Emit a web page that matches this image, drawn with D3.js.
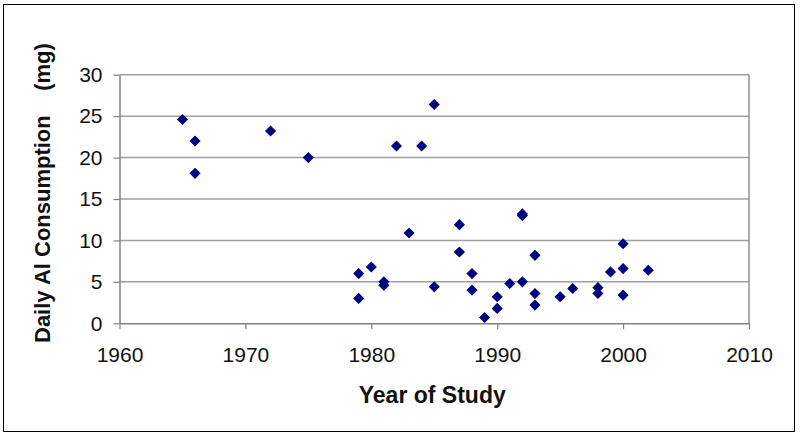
<!DOCTYPE html>
<html>
  <head>
    <meta charset="utf-8">
    <title>Daily Al Consumption by Year of Study</title>
    <style>
      body { margin: 0; background: white; }
      .tick-label {
        font-family: "Liberation Sans", Arial, sans-serif;
        font-size: 21px;
        fill: #111;
      }
      .axis-title {
        font-family: "Liberation Sans", Arial, sans-serif;
        font-size: 22px;
        font-weight: bold;
        fill: #111;
        white-space: pre;
      }
    </style>
  </head>
  <body>
    <script src="https://d3js.org/d3.v7.min.js"></script>
    <script>
      const width = 800;
      const height = 437;

      // study year and daily aluminium intake (mg)
      const years = [1965, 1966, 1966, 1972, 1975, 1979, 1979, 1980, 1981, 1981,
                     1982, 1983, 1984, 1985, 1985, 1987, 1987, 1988, 1988, 1989,
                     1990, 1990, 1991, 1992, 1992, 1992, 1993, 1993, 1993, 1995,
                     1996, 1998, 1998, 1999, 2000, 2000, 2000, 2002];
      const intake = [24.6, 22.0, 18.1, 23.2, 20.0, 6.0, 3.0, 6.8, 5.0, 4.6,
                      21.4, 10.9, 21.4, 26.4, 4.4, 11.9, 8.6, 6.0, 4.0, 0.7,
                      3.2, 1.8, 4.8, 13.0, 13.2, 5.0, 8.2, 3.6, 2.2, 3.2,
                      4.2, 4.3, 3.6, 6.2, 9.6, 6.6, 3.4, 6.4];
      const xTicks = [1960, 1970, 1980, 1990, 2000, 2010];
      const yTicks = [0, 5, 10, 15, 20, 25, 30];

      const points = years.map((y, i) => ({ year: y, value: intake[i] }));

      const plot = { left: 119.5, right: 749, top: 74.7, bottom: 323.3 };

      const svg = d3.select("body")
        .append("svg")
        .attr("width", width)
        .attr("height", height);

      // outer frame
      svg.append("rect")
        .attr("x", 3.5).attr("y", 4.5)
        .attr("width", 791).attr("height", 427)
        .attr("fill", "white")
        .attr("stroke", "black")
        .attr("stroke-width", 1);

      const x = d3.scaleLinear()
        .domain([1960, 2010])
        .range([plot.left, plot.right]);

      const y = d3.scaleLinear()
        .domain([0, 30])
        .range([plot.bottom, plot.top]);

      // gridlines
      svg.append("g")
        .selectAll("line")
        .data(yTicks.filter(d => d > 0))
        .enter()
        .append("line")
        .attr("x1", plot.left).attr("x2", plot.right)
        .attr("y1", d => y(d)).attr("y2", d => y(d))
        .attr("stroke", "#a0a0a0")
        .attr("stroke-width", 1.5);

      // right border of plot area
      svg.append("line")
        .attr("x1", plot.right).attr("x2", plot.right)
        .attr("y1", plot.top).attr("y2", plot.bottom)
        .attr("stroke", "#909090")
        .attr("stroke-width", 1.5);

      // x axis
      const xAxis = svg.append("g")
        .attr("transform", `translate(0,${plot.bottom})`)
        .call(d3.axisBottom(x).tickValues(xTicks).tickFormat(d3.format("d"))
          .tickSizeInner(6).tickSizeOuter(0).tickPadding(18));
      xAxis.select(".domain").attr("stroke", "#808080").attr("stroke-width", 1.5);
      xAxis.selectAll(".tick line").attr("stroke", "#808080").attr("stroke-width", 1.2);
      xAxis.selectAll(".tick text").attr("class", "tick-label").attr("font-size", null).attr("font-family", null);

      // y axis
      const yAxis = svg.append("g")
        .attr("transform", `translate(${plot.left},0)`)
        .call(d3.axisLeft(y).tickValues(yTicks)
          .tickSizeInner(6).tickSizeOuter(0).tickPadding(11));
      yAxis.select(".domain").attr("stroke", "#808080").attr("stroke-width", 1.5);
      yAxis.selectAll(".tick line").attr("stroke", "#808080").attr("stroke-width", 1.2);
      yAxis.selectAll(".tick text").attr("class", "tick-label").attr("font-size", null).attr("font-family", null);

      // points
      const diamond = d3.symbol().type(d3.symbolSquare).size(62);
      svg.append("g")
        .selectAll("path")
        .data(points)
        .enter()
        .append("path")
        .attr("d", diamond)
        .attr("transform", d => `translate(${x(d.year)},${y(d.value)}) rotate(45)`)
        .attr("fill", "#000080");

      // axis titles
      svg.append("text")
        .attr("class", "axis-title")
        .attr("x", (plot.left + plot.right) / 2 - 2)
        .attr("y", 403)
        .attr("text-anchor", "middle")
        .style("font-size", "23px")
        .text("Year of Study");

      svg.append("text")
        .attr("class", "axis-title")
        .attr("transform", "translate(50,343) rotate(-90)")
        .attr("text-anchor", "start")
        .text("Daily Al Consumption    (mg)");
    </script>
  </body>
</html>
